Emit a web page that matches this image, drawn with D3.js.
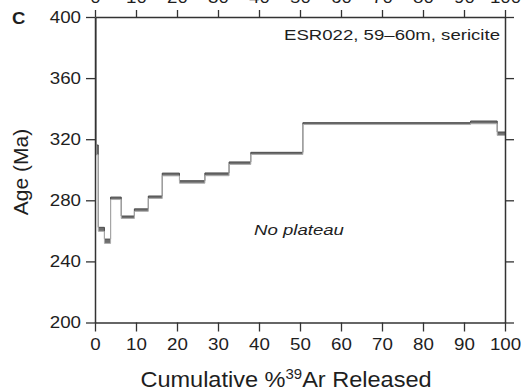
<!DOCTYPE html>
<html>
<head>
<meta charset="utf-8">
<script src="https://cdn.jsdelivr.net/npm/d3@7"></script>
<style>
  html, body { margin: 0; padding: 0; background: #fff; }
  svg { display: block; font-family: "Liberation Sans", Arial, Helvetica, sans-serif; }
</style>
</head>
<body>
<svg id="chart" width="521" height="392"></svg>
<script>
// ---- data ----
const stepEdges = [0, 0.3, 0.8, 2.3, 3.8, 6.4, 9.6, 13.0, 16.4, 20.6, 26.8, 32.7, 38.0, 50.7, 91.6, 98.1, 100];
const stepAges  = [440, 313, 261, 253.2, 281.3, 268.9, 273.6, 282.0, 296.9, 292.0, 297.0, 304.3, 310.7, 330.2, 331.0, 323.6];
const stepErrs  = [5, 3.2, 1.3, 1.4, 0.8, 0.8, 0.8, 0.8, 0.9, 0.8, 0.9, 0.8, 0.7, 0.6, 0.9, 1.1];
const xTicks = [0, 10, 20, 30, 40, 50, 60, 70, 80, 90, 100];
const yTicks = [200, 240, 280, 320, 360, 400];
const panelLabel = "C";
const sampleLabel = "ESR022, 59–60m, sericite";
const noteLabel = "No plateau";

// ---- layout ----
const W = 521, H = 392;
const m = { left: 95, right: 16, top: 17, bottom: 69.5 };
const iw = W - m.left - m.right, ih = H - m.top - m.bottom;
const FONT = "'Liberation Sans', Arial, Helvetica, sans-serif";
const SX = 1.15; // horizontal stretch of the reference lettering

const svg = d3.select("#chart");
const x = d3.scaleLinear().domain([0, 100]).range([m.left, m.left + iw]);
const y = d3.scaleLinear().domain([200, 400]).range([m.top + ih, m.top]);

svg.append("defs").append("clipPath").attr("id", "clip")
  .append("rect").attr("x", m.left).attr("y", m.top).attr("width", iw).attr("height", ih);

const steps = stepAges.map((a, i) => ({ x0: stepEdges[i], x1: stepEdges[i + 1], age: a, err: stepErrs[i] }));

const g = svg.append("g").attr("clip-path", "url(#clip)");

// error boxes
g.selectAll("rect.step").data(steps).enter().append("rect")
  .attr("class", "step")
  .attr("x", d => x(d.x0)).attr("width", d => x(d.x1) - x(d.x0))
  .attr("y", d => y(d.age + d.err)).attr("height", d => y(d.age - d.err) - y(d.age + d.err))
  .attr("fill", "#6e6e6e");

function stairPts(sign) {
  const pts = [];
  steps.forEach(d => {
    const v = d.age + sign * d.err;
    pts.push([d.x0, v]); pts.push([d.x1, v]);
  });
  return pts;
}
const line = d3.line().x(p => x(p[0])).y(p => y(p[1]));

g.append("path").attr("d", line(stairPts(1)))
  .attr("fill", "none").attr("stroke", "#4a4a4a").attr("stroke-width", 1);
g.append("path").attr("d", line(stairPts(-1)))
  .attr("fill", "none").attr("stroke", "#acacac").attr("stroke-width", 1);

// ---- axes ----
const axisColor = "#333";
function styleAxis(sel) {
  sel.select(".domain").attr("stroke", axisColor).attr("stroke-width", 1.5);
  sel.selectAll(".tick line").attr("stroke", axisColor).attr("stroke-width", 1.3);
  sel.selectAll(".tick text").attr("fill", "#1e1e1e").attr("font-size", 16.3).attr("font-family", FONT)
    .attr("transform", `scale(${SX},1)`);
}

const gb = svg.append("g").attr("transform", `translate(0,${m.top + ih})`)
  .call(d3.axisBottom(x).tickValues(xTicks).tickSize(9).tickPadding(6.5).tickSizeOuter(0));
styleAxis(gb);

const gt = svg.append("g").attr("transform", `translate(0,${m.top})`)
  .call(d3.axisTop(x).tickValues(xTicks).tickSize(7).tickPadding(7).tickSizeOuter(0));
styleAxis(gt);
gt.selectAll(".tick text").attr("y", -14);

const gl = svg.append("g").attr("transform", `translate(${m.left},0)`)
  .call(d3.axisLeft(y).tickValues(yTicks).tickSize(9).tickPadding(5).tickSizeOuter(0));
styleAxis(gl);
gl.selectAll(".tick text").attr("x", -14 / SX);

const gr = svg.append("g").attr("transform", `translate(${m.left + iw},0)`)
  .call(d3.axisRight(y).tickValues(yTicks).tickSize(9).tickFormat("").tickSizeOuter(0));
styleAxis(gr);

// ---- text ----
function label(px, py, sx, txt) {
  return svg.append("text").attr("transform", `translate(${px},${py}) scale(${sx},1)`)
    .attr("font-family", FONT).attr("fill", "#1e1e1e").text(txt);
}
label(12, 23.5, 1.12, panelLabel).attr("font-size", 16.5).attr("font-weight", "bold");
label(500, 39.5, 1.2, sampleLabel).attr("font-size", 15.5).attr("text-anchor", "end");
label(299, 235, 1.2, noteLabel).attr("font-size", 15.5).attr("font-style", "italic").attr("text-anchor", "middle");

svg.append("text").attr("transform", "translate(28,172) rotate(-90)").attr("text-anchor", "middle")
  .attr("font-size", 21).attr("font-family", FONT).attr("fill", "#1e1e1e").text("Age (Ma)");

const xt = svg.append("text").attr("transform", "translate(286,387) scale(1.07,1)").attr("text-anchor", "middle")
  .attr("font-size", 22).attr("font-family", FONT).attr("fill", "#1e1e1e");
xt.append("tspan").text("Cumulative %");
xt.append("tspan").attr("font-size", 14).attr("dy", -8).text("39");
xt.append("tspan").attr("dy", 8).text("Ar Released");
</script>
</body>
</html>
